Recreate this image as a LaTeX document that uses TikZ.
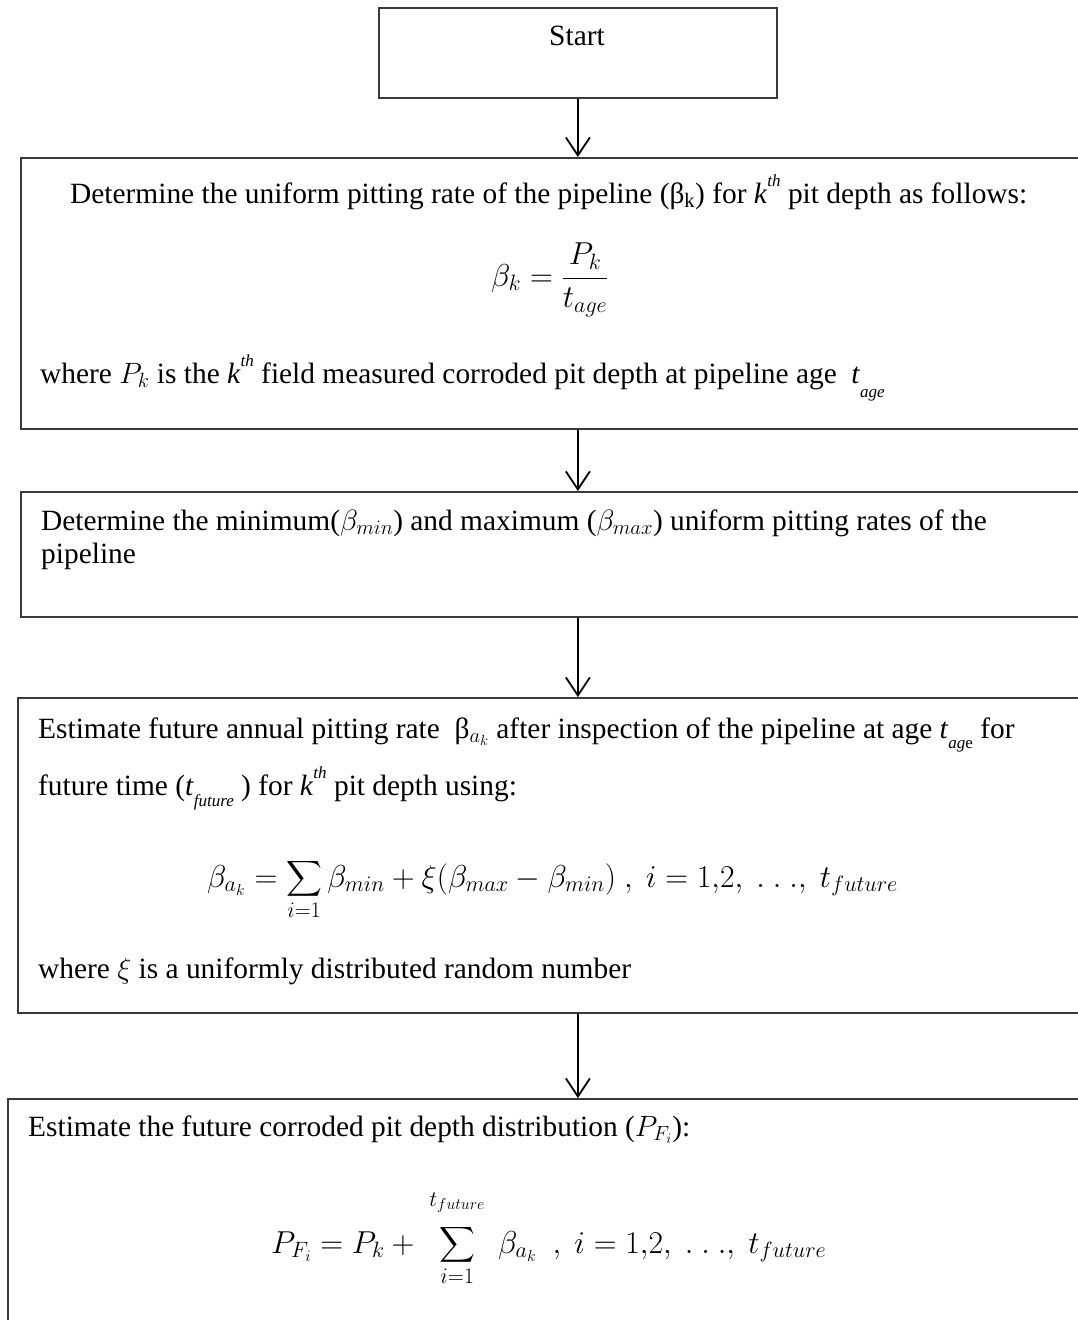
\RequirePackage{fix-cm}
\documentclass[tikz,border=0pt]{standalone}
\usepackage{amsmath}
\usepackage{fontspec}
\setmainfont{Liberation Serif}
\usetikzlibrary{arrows.meta}
\newcommand\kth{\textit{k}\raisebox{0.55em}{\fontsize{17}{17}\selectfont\textit{th}}}
\newcommand\subsc[2]{\raisebox{#1}{\fontsize{17}{17}\selectfont #2}}
\definecolor{edgegray}{HTML}{3A3A3A}
\tikzset{
  flowbox/.style={draw=edgegray, line width=1.8pt, inner sep=0pt, anchor=north west},
  txt/.style={inner sep=0pt, anchor=base west, font=\fontsize{29.4}{34}\selectfont},
  eqn/.style={inner sep=0pt, anchor=base west, font=\fontsize{31.7}{36}\selectfont},
  arr/.style={draw=black, line width=1.8pt, -{Straight Barb[length=18pt,width=24pt]}}
}
\begin{document}
\begin{tikzpicture}[x=1pt,y=-1pt]
\useasboundingbox (0,0) rectangle (1078,1320);
\clip (0,0) rectangle (1078,1320);
\fill[white] (0,0) rectangle (1078,1320);

% boxes
\node[flowbox, minimum width=398pt, minimum height=90pt] (start) at (378,7) {};
\node[flowbox, minimum width=1100pt, minimum height=271pt] (b1) at (20,157) {};
\node[flowbox, minimum width=1100pt, minimum height=125pt] (b2) at (20,491) {};
\node[flowbox, minimum width=1100pt, minimum height=315pt] (b3) at (17,697) {};
\node[flowbox, minimum width=1100pt, minimum height=320pt] (b4) at (7,1098) {};

% connectors
\draw[arr] (start.south) -- (start.south |- b1.north);
\draw[arr] (start.south |- b1.south) -- (start.south |- b2.north);
\draw[arr] (start.south |- b2.south) -- (start.south |- b3.north);
\draw[arr] (start.south |- b3.south) -- (start.south |- b4.north);

% Start
\node[txt, anchor=base] (tstart) at (577,45) {Start};

% box 1
\node[txt] (t11) at (70,203) {Determine the uniform pitting rate of the pipeline (β\textsubscript{k}) for \kth{} pit depth as follows:};
\node[eqn, anchor=west] (e1) at (491,280) {$\displaystyle \beta_k = \frac{P_k}{t_{age}}$};
\node[txt] (t12) at (40,383) {where $P_k$ is the \kth{} field measured corroded pit depth at pipeline age \ \textit{t}\subsc{-0.48em}{\textit{age}}};

% box 2
\node[txt] (t21) at (41,530) {Determine the minimum($\beta_{min}$) and maximum ($\beta_{max}$) uniform pitting rates of the};
\node[txt] (t22) at (41,563) {pipeline};

% box 3
\node[txt] (t31) at (38,738) {Estimate future annual pitting rate \ β$_{a_k}$ after inspection of the pipeline at age \textit{t}\subsc{-0.35em}{\textit{ag}e} for};
\node[txt] (t32) at (38,795) {future time (\textit{t}\subsc{-0.4em}{\textit{future}}\ ) for \kth{} pit depth using:};
\node[eqn] (e3) at (207,887) {$\displaystyle \beta_{a_k} = \sum_{i=1} \beta_{min} + \xi(\beta_{max} - \beta_{min})\ ,\ i = 1{,}2,\ .\ .\ .,\ t_{future}$};
\node[txt] (t33) at (38,978) {where $\xi$ is a uniformly distributed random number};

% box 4
\node[txt] (t41) at (28,1136) {Estimate the future corroded pit depth distribution ($P_{F_i}$):};
\node[eqn] (e4) at (271,1253) {$\displaystyle P_{F_i} = P_k + \ \sum_{i=1}^{t_{future}\rule[-16pt]{0pt}{0pt}}\ \beta_{a_k}\ \ ,\ i = 1{,}2,\ .\ .\ .,\ t_{future}$};
\end{tikzpicture}
\end{document}
